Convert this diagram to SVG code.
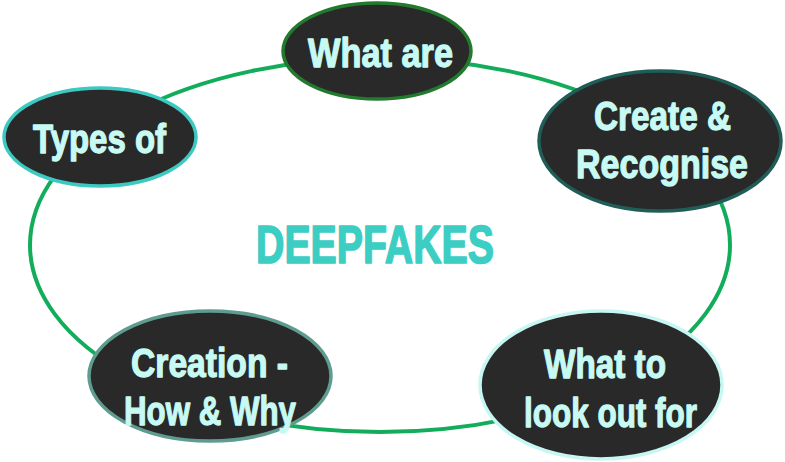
<svg xmlns="http://www.w3.org/2000/svg" width="785" height="462" viewBox="0 0 785 462">
<style>
.node{fill:#292929;stroke-width:3.5}
.lbl{font-family:"Liberation Sans",Arial,sans-serif;font-weight:bold;font-size:41px;fill:#c8faf4;stroke:#c8faf4;stroke-width:1.3;stroke-linejoin:round}
.title{font-family:"Liberation Sans",Arial,sans-serif;font-weight:bold;font-size:53px;fill:#3ccdc3;stroke:#3ccdc3;stroke-width:1.6;stroke-linejoin:round}
</style>
<rect width="785" height="462" fill="#ffffff"/>
<g id="connectors">
<ellipse cx="380" cy="245" rx="350" ry="187" fill="none" stroke="#12ad5a" stroke-width="4"/>
</g>
<g id="center">
<text class="title" x="256" y="263" textLength="238" lengthAdjust="spacingAndGlyphs">DEEPFAKES</text>
</g>
<g id="what-are">
<ellipse class="node" cx="377" cy="51" rx="94" ry="48" stroke="#227a2e"/>
<text class="lbl" x="308" y="67" textLength="145" lengthAdjust="spacingAndGlyphs">What are</text>
</g>
<g id="create-recognise">
<ellipse class="node" cx="660" cy="141" rx="121" ry="70" stroke="#1f5e58"/>
<text class="lbl" x="594" y="130" textLength="137" lengthAdjust="spacingAndGlyphs">Create &amp;</text>
<text class="lbl" x="576" y="178" textLength="172" lengthAdjust="spacingAndGlyphs">Recognise</text>
</g>
<g id="types-of">
<ellipse class="node" cx="100" cy="137" rx="96" ry="49" stroke="#3cc9c1"/>
<text class="lbl" x="33" y="153" textLength="133" lengthAdjust="spacingAndGlyphs">Types of</text>
</g>
<g id="creation">
<ellipse class="node" cx="210" cy="376" rx="121" ry="65" stroke="#5e9c8f"/>
<text class="lbl" x="131" y="377" textLength="157" lengthAdjust="spacingAndGlyphs">Creation -</text>
<text class="lbl" x="124" y="425" textLength="172" lengthAdjust="spacingAndGlyphs">How &amp; Why</text>
</g>
<g id="look-out">
<ellipse class="node" cx="601" cy="385" rx="121" ry="74" stroke="#c6f7f3"/>
<text class="lbl" x="544" y="378" textLength="122" lengthAdjust="spacingAndGlyphs">What to</text>
<text class="lbl" x="524" y="427" textLength="173" lengthAdjust="spacingAndGlyphs">look out for</text>
</g>
</svg>
